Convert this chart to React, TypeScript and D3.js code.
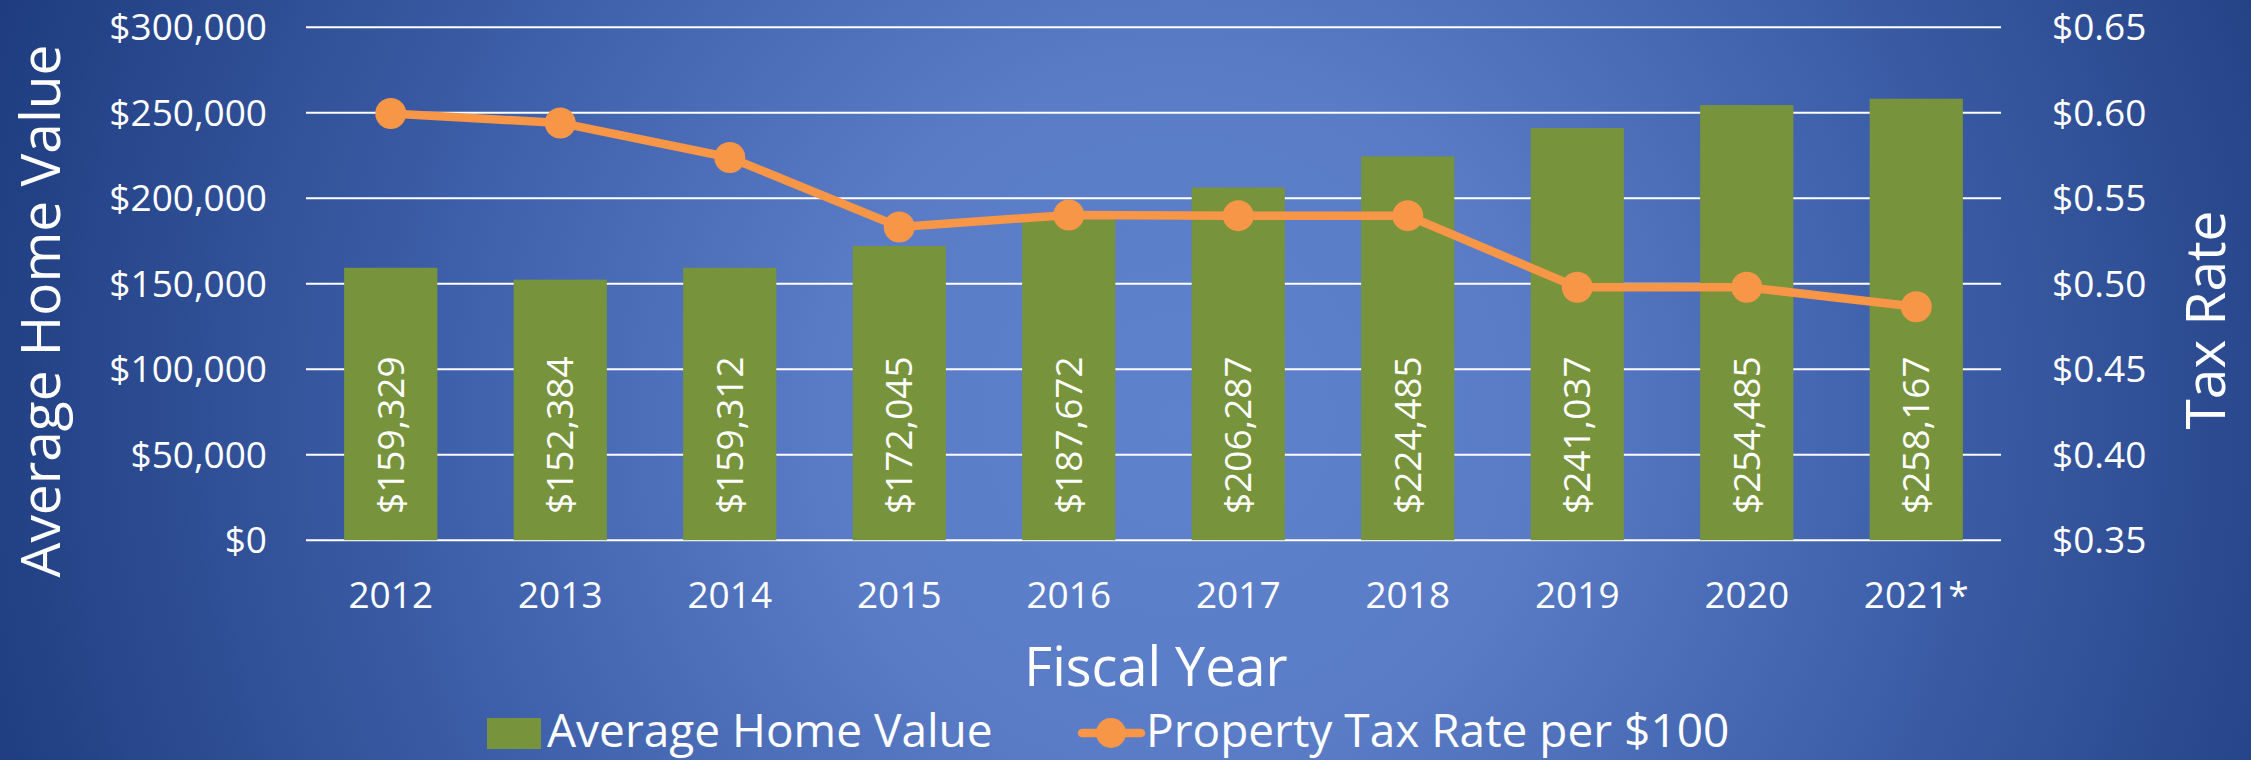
import React from "react";
import * as d3 from "d3";

const years = ["2012", "2013", "2014", "2015", "2016", "2017", "2018", "2019", "2020", "2021*"];
const homeValues = [159329, 152384, 159312, 172045, 187672, 206287, 224485, 241037, 254485, 258167];
const taxRates = [0.5995, 0.594, 0.5738, 0.5332, 0.5402, 0.5398, 0.5398, 0.4979, 0.4979, 0.4865];
const leftTicks = [0, 50000, 100000, 150000, 200000, 250000, 300000];
const rightTicks = [0.35, 0.4, 0.45, 0.5, 0.55, 0.6, 0.65];

const W = 2251;
const H = 760;
const FONT = "'Open Sans', 'DejaVu Sans', sans-serif";
const BAR = "#77933C";
const ORANGE = "#F79646";

export default function App() {
  const x = d3.scaleBand<string>().domain(years).range([306, 2001]).paddingInner(0).paddingOuter(0);
  const yL = d3.scaleLinear().domain([0, 300000]).range([540.2, 27.2]);
  const yR = d3.scaleLinear().domain([0.35, 0.65]).range([540.2, 27.2]);
  const bw = x.bandwidth() * 0.55;
  const cx = (d: string) => (x(d) as number) + x.bandwidth() / 2;
  const fmtL = (v: number) => "$" + d3.format(",")(v);
  const fmtR = (v: number) => "$" + v.toFixed(2);
  const line = d3
    .line<number>()
    .x((_, i) => cx(years[i]))
    .y((d) => yR(d));
  const tickFs = 37;

  return (
    <svg
      width={W}
      height={H}
      style={{ position: "absolute", left: 0, top: 0, display: "block" }}
      fontFamily={FONT}
    >
      <defs>
        <radialGradient id="bg" gradientUnits="userSpaceOnUse" cx={1180} cy={420} r={1250}>
          <stop offset="0" stopColor="#5F82CC" />
          <stop offset="0.28" stopColor="#5A7CC6" />
          <stop offset="0.6" stopColor="#3D5EA8" />
          <stop offset="1" stopColor="#1E3C7F" />
        </radialGradient>
      </defs>
      <rect x={0} y={0} width={W} height={H} fill="url(#bg)" />

      {/* gridlines */}
      {leftTicks.map((t) => (
        <line key={"g" + t} x1={306} x2={2001} y1={yL(t)} y2={yL(t)} stroke="#FFFFFF" strokeWidth={2} />
      ))}

      {/* bars */}
      {years.map((d, i) => (
        <rect key={"b" + d} x={cx(d) - bw / 2} y={yL(homeValues[i])} width={bw} height={yL(0) - yL(homeValues[i])} fill={BAR} />
      ))}

      {/* bar labels */}
      {years.map((d, i) => (
        <text
          key={"bl" + d}
          transform={`translate(${cx(d) + tickFs * 0.357},${514}) rotate(-90)`}
          fontSize={tickFs}
          fill="#FFFFFF"
          textAnchor="start"
        >
          {fmtL(homeValues[i])}
        </text>
      ))}

      {/* tax rate line */}
      <path d={line(taxRates) || ""} fill="none" stroke={ORANGE} strokeWidth={8.5} strokeLinejoin="round" />
      {taxRates.map((v, i) => (
        <circle key={"p" + i} cx={cx(years[i])} cy={yR(v)} r={15.5} fill={ORANGE} />
      ))}

      {/* left ticks */}
      {leftTicks.map((t) => (
        <text key={"lt" + t} x={267} y={yL(t) + tickFs * 0.357} fontSize={tickFs} fill="#FFFFFF" textAnchor="end">
          {fmtL(t)}
        </text>
      ))}

      {/* right ticks */}
      {rightTicks.map((t) => (
        <text key={"rt" + t} x={2052} y={yR(t) + tickFs * 0.357} fontSize={tickFs} fill="#FFFFFF" textAnchor="start">
          {fmtR(t)}
        </text>
      ))}

      {/* x ticks */}
      {years.map((d) => (
        <text key={"xt" + d} x={cx(d)} y={608} fontSize={tickFs} fill="#FFFFFF" textAnchor="middle">
          {d}
        </text>
      ))}

      {/* axis titles */}
      <text transform="translate(60,311) rotate(-90)" fontSize={55} fill="#FFFFFF" textAnchor="middle">
        Average Home Value
      </text>
      <text transform="translate(2225,320) rotate(-90)" fontSize={55} fill="#FFFFFF" textAnchor="middle">
        Tax Rate
      </text>
      <text x={1156} y={686} fontSize={54} fill="#FFFFFF" textAnchor="middle">
        Fiscal Year
      </text>

      {/* legend */}
      <rect x={487} y={718} width={54} height={31} fill={BAR} />
      <text x={547} y={747} fontSize={46} fill="#FFFFFF">
        Average Home Value
      </text>
      <line x1={1082} x2={1141} y1={733} y2={733} stroke={ORANGE} strokeWidth={8.5} strokeLinecap="round" />
      <circle cx={1111} cy={733} r={15} fill={ORANGE} />
      <text x={1146} y={747} fontSize={46} fill="#FFFFFF">
        Property Tax Rate per $100
      </text>
    </svg>
  );
}
